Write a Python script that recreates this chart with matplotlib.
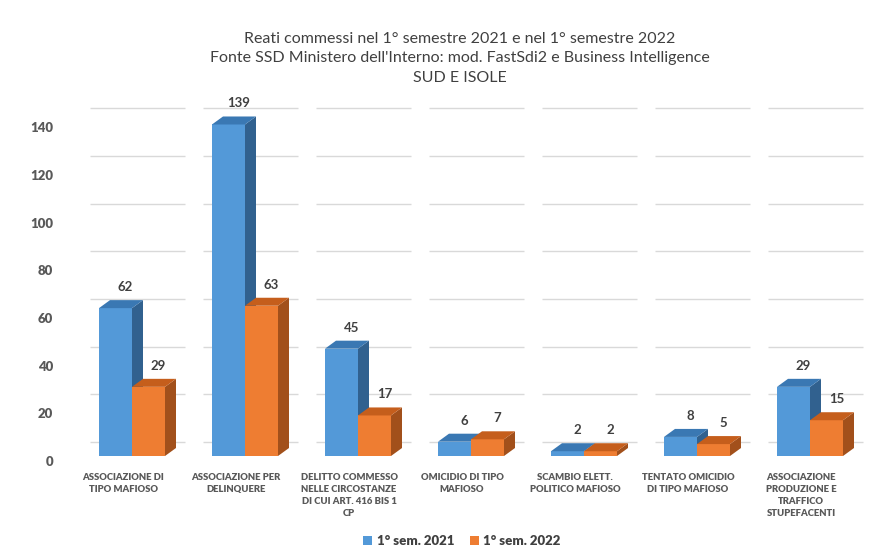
import matplotlib
matplotlib.use("Agg")
import matplotlib.pyplot as plt
from matplotlib.patches import Polygon, Patch
from matplotlib.transforms import ScaledTranslation

plt.rcParams['font.family'] = ['Lato', 'DejaVu Sans']

categories = [
    "ASSOCIAZIONE DI\nTIPO MAFIOSO",
    "ASSOCIAZIONE PER\nDELINQUERE",
    "DELITTO COMMESSO\nNELLE CIRCOSTANZE\nDI CUI ART. 416 BIS 1\nCP",
    "OMICIDIO DI TIPO\nMAFIOSO",
    "SCAMBIO ELETT.\nPOLITICO MAFIOSO",
    "TENTATO OMICIDIO\nDI TIPO MAFIOSO",
    "ASSOCIAZIONE\nPRODUZIONE E\nTRAFFICO\nSTUPEFACENTI",
]
sem_2021 = [62, 139, 45, 6, 2, 8, 29]
sem_2022 = [29, 63, 17, 7, 2, 5, 15]
series_names = ["1° sem. 2021", "1° sem. 2022"]
yticks = [0, 20, 40, 60, 80, 100, 120, 140]
title_lines = [
    "Reati commessi nel 1° semestre 2021 e nel 1° semestre 2022",
    "Fonte SSD Ministero dell'Interno: mod. FastSdi2 e Business Intelligence",
    "SUD E ISOLE",
]

colors = {
    "front": ["#5399d8", "#ee7d32"],
    "side": ["#31618f", "#a2501b"],
    "top": ["#3a78b3", "#c55e1c"],
}
text_col = "#404040"

W, H = 896, 548
fig = plt.figure(figsize=(W / 100, H / 100), dpi=100)
ax_left_px, ax_right_px = 75.5, 866.5
base_px = 456
px_per_unit = 2.385
ymax = 150
ax = fig.add_axes([ax_left_px / W, (H - base_px) / H,
                   (ax_right_px - ax_left_px) / W, ymax * px_per_unit / H])
n = len(categories)
ax.set_xlim(-0.5, n - 0.5)
ax.set_ylim(0, ymax)
for s in ax.spines.values():
    s.set_visible(False)

px_per_cat = (ax_right_px - ax_left_px) / n
bw = 33 / px_per_cat
ddx = 11 / px_per_cat          # depth in data units (x)
ddy = 8 / px_per_unit          # depth in data units (y)

# back wall gridlines (segmented per category, offset upward)
grid_tr = ax.transData + ScaledTranslation(0, 14 / 100, fig.dpi_scale_trans)
for i in range(n):
    ax.hlines(yticks, i - 0.37, i + 0.47, colors="#d9d9d9", lw=1.0,
              transform=grid_tr, zorder=0)

for k, vals in enumerate([sem_2021, sem_2022]):
    xs = [i - bw + k * bw for i in range(n)]
    ax.bar(xs, vals, width=bw, align='edge', color=colors["front"][k],
           zorder=2 + 2 * k, linewidth=0)
    for x0, v in zip(xs, vals):
        x1 = x0 + bw
        side = Polygon([(x1, 0), (x1 + ddx, ddy), (x1 + ddx, v + ddy), (x1, v)],
                       closed=True, facecolor=colors["side"][k], lw=0,
                       zorder=2 + 2 * k)
        top = Polygon([(x0, v), (x0 + ddx, v + ddy), (x1 + ddx, v + ddy), (x1, v)],
                      closed=True, facecolor=colors["top"][k], lw=0,
                      zorder=2 + 2 * k)
        ax.add_patch(side)
        ax.add_patch(top)
        ax.annotate(str(v), xy=(x0 + bw / 2, v), xytext=(10, 21),
                    textcoords='offset pixels', ha='center', va='center',
                    fontsize=9.5, fontweight='bold', color=text_col, zorder=10)

ax.set_yticks(yticks)
ax.set_yticklabels([str(t) for t in yticks], fontsize=9.5, fontweight='heavy',
                   color="#595959")
ax.tick_params(axis='y', length=0, pad=16)
lab_off = ScaledTranslation(0, -5 / 100, fig.dpi_scale_trans)
for lab in ax.get_yticklabels():
    lab.set_transform(lab.get_transform() + lab_off)

ax.set_xticks(range(n))
ax.set_xticklabels(categories, fontsize=6.8, fontweight='heavy', color="#595959",
                   linespacing=1.45, va='top')
ax.tick_params(axis='x', length=0, pad=12)
xoff = ScaledTranslation(-9 / 100, 0, fig.dpi_scale_trans)
for lab in ax.get_xticklabels():
    lab.set_transform(lab.get_transform() + xoff)

for j, (line, yp) in enumerate(zip(title_lines, [39, 58, 78])):
    fig.text(460 / W, 1 - yp / H, line, ha='center', va='center',
             fontsize=11.5, color=text_col)

handles = [Patch(facecolor=colors["front"][k], edgecolor='none') for k in range(2)]
fig.legend(handles, series_names, loc='center', bbox_to_anchor=(462 / W, 1 - 541 / H),
           ncol=2, frameon=False, handlelength=0.65, handleheight=0.65,
           handletextpad=0.35, columnspacing=1.2,
           prop={'weight': 'heavy', 'size': 9.5}, labelcolor=text_col)

fig.savefig("out.png", dpi=100)
